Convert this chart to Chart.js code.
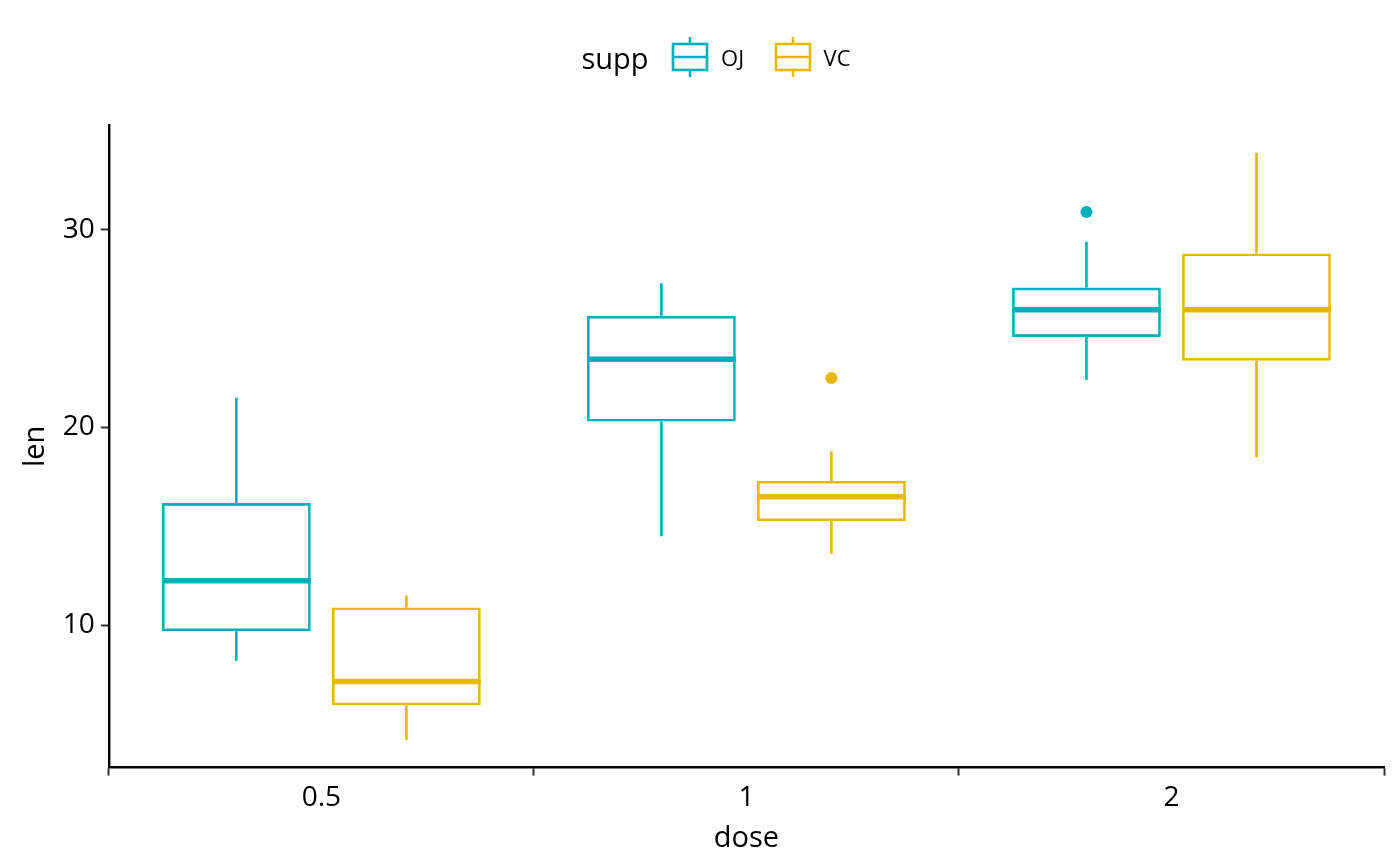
<!DOCTYPE html>
<html>
<head>
<meta charset="utf-8">
<script src="https://cdn.jsdelivr.net/npm/chart.js@4"></script>
<style>
  body { margin: 0; background: #fff; font-family: "Open Sans", sans-serif; }
  #wrap { position: relative; width: 1400px; height: 866px; }
  #legend { position: absolute; top: 34px; left: 0; width: 1400px; padding-left: 46px; box-sizing: border-box; text-align: center; font-size: 29px; }
  #legend span { display: inline-flex; align-items: center; margin: 0 3px; vertical-align: middle; }
  #legend .lab { font-size: 22px; margin-left: 10px; margin-right: 14px; }
  #legend .nm { margin-right: 10px; }
</style>
</head>
<body>
<div id="wrap">
  <canvas id="c" width="1400" height="866"></canvas>
  <div id="legend">
    <span class="nm">supp</span>
    <span><canvas id="k1" width="42" height="42"></canvas><span class="lab">OJ</span></span>
    <span><canvas id="k2" width="42" height="42"></canvas><span class="lab">VC</span></span>
  </div>
</div>
<script>
const doses = ['0.5', '1', '2'];
const groups = ['OJ', 'VC'];
const colors = ['#00AFBB', '#E7B800'];
// per dose: [whiskerLow, q1, median, q3, whiskerHigh]
const ojStats = [[8.2, 9.7, 12.25, 16.18, 21.5], [14.5, 20.3, 23.45, 25.65, 27.3], [22.4, 24.58, 25.95, 27.08, 29.4]];
const vcStats = [[4.2, 5.95, 7.15, 10.9, 11.5], [13.6, 15.27, 16.5, 17.3, 18.8], [18.5, 23.38, 25.95, 28.8, 33.9]];
const ojOutliers = [[], [], [30.9]];
const vcOutliers = [[], [22.5], []];
const stats = [ojStats, vcStats];
const outliers = [ojOutliers, vcOutliers];

const boxPlugin = {
    id: 'boxes',
    afterDatasetsDraw(chart) {
        const ctx = chart.ctx;
        const y = chart.scales.y;
        chart.data.datasets.forEach((ds, di) => {
            const meta = chart.getDatasetMeta(di);
            meta.data.forEach((bar, i) => {
                const s = stats[di][i];
                const x = bar.x, hw = bar.width / 2;
                ctx.save();
                ctx.strokeStyle = colors[di];
                ctx.lineWidth = 2.6;
                ctx.beginPath();
                ctx.moveTo(x, y.getPixelForValue(s[0]));
                ctx.lineTo(x, y.getPixelForValue(s[1]));
                ctx.moveTo(x, y.getPixelForValue(s[3]));
                ctx.lineTo(x, y.getPixelForValue(s[4]));
                ctx.stroke();
                ctx.lineWidth = 5.5;
                ctx.beginPath();
                ctx.moveTo(x - hw, y.getPixelForValue(s[2]));
                ctx.lineTo(x + hw, y.getPixelForValue(s[2]));
                ctx.stroke();
                ctx.fillStyle = colors[di];
                outliers[di][i].forEach(v => {
                    ctx.beginPath();
                    ctx.arc(x, y.getPixelForValue(v), 6, 0, Math.PI * 2);
                    ctx.fill();
                });
                ctx.restore();
            });
        });
    }
};

new Chart(document.getElementById('c'), {
    type: 'bar',
    data: {
        labels: doses,
        datasets: groups.map((g, gi) => ({
            label: g,
            data: stats[gi].map(s => [s[1], s[3]]),
            backgroundColor: 'rgba(0,0,0,0)',
            borderColor: colors[gi],
            borderWidth: 2.6,
            borderSkipped: false,
            categoryPercentage: 0.8,
            barPercentage: 0.875
        }))
    },
    options: {
        responsive: false,
        animation: false,
        layout: { padding: { top: 125, right: 16, left: 14, bottom: 6 } },
        plugins: { legend: { display: false }, tooltip: { enabled: false } },
        scales: {
            x: {
                grid: { display: true, drawOnChartArea: false, tickLength: 8, tickWidth: 2, tickColor: '#333' },
                border: { color: '#000', width: 2.4 },
                ticks: { color: '#000', padding: 6, font: { family: 'Open Sans', size: 28 } },
                title: { display: true, text: 'dose', color: '#000', font: { family: 'Open Sans', size: 29 }, padding: { top: 0 } }
            },
            y: {
                min: 2.8, max: 35.3,
                afterBuildTicks(ax) { ax.ticks = [10, 20, 30].map(v => ({ value: v })); },
                grid: { display: true, drawOnChartArea: false, tickLength: 8, tickWidth: 2, tickColor: '#333' },
                border: { color: '#000', width: 2.4 },
                ticks: { color: '#000', padding: 6, font: { family: 'Open Sans', size: 28 } },
                title: { display: true, text: 'len', color: '#000', font: { family: 'Open Sans', size: 29 } }
            }
        }
    },
    plugins: [boxPlugin]
});

// legend keys
['k1', 'k2'].forEach((id, i) => {
    const c = document.getElementById(id).getContext('2d');
    c.strokeStyle = colors[i];
    c.lineWidth = 2.6;
    c.strokeRect(4, 8, 34, 26);
    c.beginPath();
    c.moveTo(21, 1); c.lineTo(21, 8);
    c.moveTo(21, 34); c.lineTo(21, 41);
    c.moveTo(4, 21); c.lineTo(38, 21);
    c.stroke();
});
</script>
</body>
</html>
